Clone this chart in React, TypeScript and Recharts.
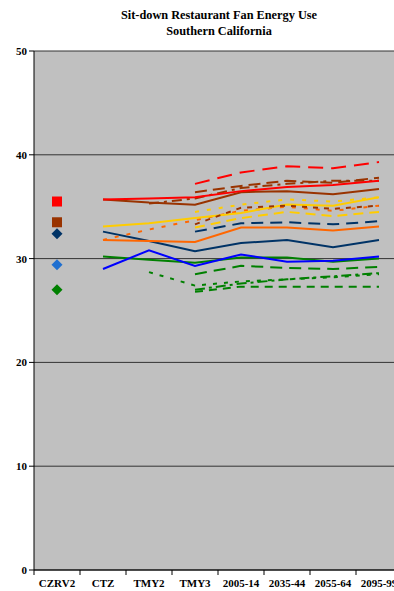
import { ComposedChart, Line, XAxis, YAxis, CartesianGrid } from 'recharts';

const categories = ['CZRV2', 'CTZ', 'TMY2', 'TMY3', '2005-14', '2035-44', '2055-64', '2095-99'];

// single markers at CZRV2
const redMark = [35.5, null, null, null, null, null, null, null];
const brownMark = [33.5, null, null, null, null, null, null, null];
const navyMark = [32.4, null, null, null, null, null, null, null];
const skyMark = [29.4, null, null, null, null, null, null, null];
const greenMark = [27.0, null, null, null, null, null, null, null];

const redSolid = [null, 35.7, 35.8, 35.9, 36.5, 36.9, 37.1, 37.5];
const redDash = [null, null, null, 37.2, 38.3, 38.9, 38.7, 39.3];

const brownSolid = [null, 35.7, 35.4, 35.2, 36.4, 36.5, 36.2, 36.7];
const brownDashA = [null, null, null, 36.4, 37.0, 37.5, 37.3, 37.8];
const brownDashB = [null, null, 35.3, 35.8, 36.8, 37.2, 37.5, 37.5];
const brownDot = [null, null, null, 33.3, 34.9, 35.1, 34.8, 35.1];

const yellowSolid = [null, 33.1, 33.4, 33.9, 34.4, 35.2, 35.1, 35.9];
const yellowDot = [null, null, null, 34.5, 35.2, 35.7, 35.5, 35.9];
const yellowDash = [null, null, null, 33.0, 33.9, 34.5, 34.1, 34.5];

const orangeSolid = [null, 31.8, 31.7, 31.6, 33.0, 33.0, 32.7, 33.1];
const orangeDot = [null, 31.8, 32.8, 33.7, 34.6, 35.0, 34.6, 35.1];

const navySolid = [null, 32.6, 31.7, 30.7, 31.5, 31.8, 31.1, 31.8];
const navyDash = [null, null, null, 32.6, 33.4, 33.5, 33.3, 33.6];

const blueSolid = [null, 29.0, 30.8, 29.3, 30.4, 29.7, 29.8, 30.2];

const greenSolid = [null, 30.2, 29.9, 29.6, 30.1, 30.1, 29.7, 30.0];
const greenDash = [null, null, null, 28.5, 29.3, 29.1, 29.0, 29.2];
const greenDot = [null, null, 28.7, 27.4, 27.8, 28.0, 28.2, 28.5];
const greenDashDot = [null, null, null, 27.0, 27.6, 28.0, 28.3, 28.6];
const greenDashB = [null, null, null, 26.8, 27.3, 27.3, 27.3, 27.3];

const RED = '#FF0000';
const BROWN = '#993300';
const YELLOW = '#FFCC00';
const ORANGE = '#FF6600';
const NAVY = '#003366';
const BLUE = '#0000FF';
const SKY = '#1F6FD0';
const GREEN = '#008000';

const series = [
  { key: 'greenDashB', values: greenDashB, color: GREEN, dash: '8 6' },
  { key: 'greenDashDot', values: greenDashDot, color: GREEN, dash: '10 4 3 4' },
  { key: 'greenDot', values: greenDot, color: GREEN, dash: '4 7' },
  { key: 'greenDash', values: greenDash, color: GREEN, dash: '12 7' },
  { key: 'greenSolid', values: greenSolid, color: GREEN },
  { key: 'blueSolid', values: blueSolid, color: BLUE },
  { key: 'navyDash', values: navyDash, color: NAVY, dash: '12 7' },
  { key: 'navySolid', values: navySolid, color: NAVY },
  { key: 'orangeDot', values: orangeDot, color: ORANGE, dash: '4 8' },
  { key: 'orangeSolid', values: orangeSolid, color: ORANGE },
  { key: 'yellowDash', values: yellowDash, color: YELLOW, dash: '10 6' },
  { key: 'yellowDot', values: yellowDot, color: YELLOW, dash: '4 8' },
  { key: 'yellowSolid', values: yellowSolid, color: YELLOW },
  { key: 'brownDot', values: brownDot, color: BROWN, dash: '5 6' },
  { key: 'brownDashB', values: brownDashB, color: BROWN, dash: '10 5 3 5' },
  { key: 'brownDashA', values: brownDashA, color: BROWN, dash: '12 6' },
  { key: 'brownSolid', values: brownSolid, color: BROWN },
  { key: 'redSolid', values: redSolid, color: RED },
  { key: 'redDash', values: redDash, color: RED, dash: '15 8' },
];

const markers = [
  { key: 'greenMark', values: greenMark, color: GREEN, shape: 'diamond' },
  { key: 'skyMark', values: skyMark, color: SKY, shape: 'diamond' },
  { key: 'navyMark', values: navyMark, color: NAVY, shape: 'diamond' },
  { key: 'brownMark', values: brownMark, color: BROWN, shape: 'square' },
  { key: 'redMark', values: redMark, color: RED, shape: 'square' },
];

const data = categories.map((cat, i) => {
  const row: Record<string, string | number | null> = { cat };
  [...series, ...markers].forEach((s) => {
    row[s.key] = s.values[i];
  });
  return row;
});

const FONT = '"Liberation Serif", "DejaVu Serif", serif';

function makeMarker(color: string, shape: string) {
  return (props: any) => {
    const { cx, cy, index } = props;
    if (cx == null || cy == null || props.value == null) return <g key={`m-${index}`} />;
    if (shape === 'square') {
      return <rect key={`m-${index}`} x={cx - 5} y={cy - 5} width={10} height={10} fill={color} />;
    }
    return (
      <polygon
        key={`m-${index}`}
        points={`${cx},${cy - 5.5} ${cx + 5.5},${cy} ${cx},${cy + 5.5} ${cx - 5.5},${cy}`}
        fill={color}
      />
    );
  };
}

function CategoryTick(props: any) {
  const { x, y, payload } = props;
  const half = payload.offset || 23;
  return (
    <g>
      <line x1={x - half} y1={y} x2={x - half} y2={y + 5} stroke="#000" />
      <text
        x={x}
        y={y + 17}
        textAnchor="middle"
        fontFamily={FONT}
        fontWeight="bold"
        fontSize={11}
        fill="#000"
      >
        {payload.value}
      </text>
    </g>
  );
}

export default function App() {
  return (
    <div
      style={{
        position: 'absolute',
        left: 0,
        top: 0,
        width: 394,
        height: 591,
        overflow: 'hidden',
        background: '#fff',
      }}
    >
      <div
        style={{
          position: 'absolute',
          left: 0,
          top: 7,
          width: 438,
          textAlign: 'center',
          fontFamily: FONT,
          fontWeight: 'bold',
          fontSize: 12.3,
          lineHeight: '16px',
          color: '#000',
        }}
      >
        Sit-down Restaurant Fan Energy Use
        <br />
        Southern California
      </div>
      <ComposedChart
        width={410}
        height={591}
        data={data}
        margin={{ top: 51, right: 8, bottom: 0, left: 0 }}
        style={{ position: 'absolute', left: 0, top: 0 }}
      >
        <CartesianGrid
          vertical={false}
          stroke="#333"
          fill="#C0C0C0"
          fillOpacity={1}
        />
        <XAxis
          dataKey="cat"
          scale="band"
          height={21}
          tickSize={0}
          tickMargin={0}
          tick={<CategoryTick />}
          axisLine={{ stroke: '#000' }}
          interval={0}
        />
        <YAxis
          width={34}
          domain={[0, 50]}
          ticks={[0, 10, 20, 30, 40, 50]}
          tickSize={5}
          tickMargin={2}
          axisLine={{ stroke: '#000' }}
          tickLine={{ stroke: '#000' }}
          tick={{ fontFamily: FONT, fontWeight: 'bold', fontSize: 11, fill: '#000' }}
        />
        {series.map((s) => (
          <Line
            key={s.key}
            dataKey={s.key}
            stroke={s.color}
            strokeWidth={2}
            strokeDasharray={s.dash}
            dot={false}
            activeDot={false}
            isAnimationActive={false}
          />
        ))}
        {markers.map((m) => (
          <Line
            key={m.key}
            dataKey={m.key}
            stroke="none"
            dot={makeMarker(m.color, m.shape)}
            activeDot={false}
            isAnimationActive={false}
          />
        ))}
      </ComposedChart>
    </div>
  );
}
